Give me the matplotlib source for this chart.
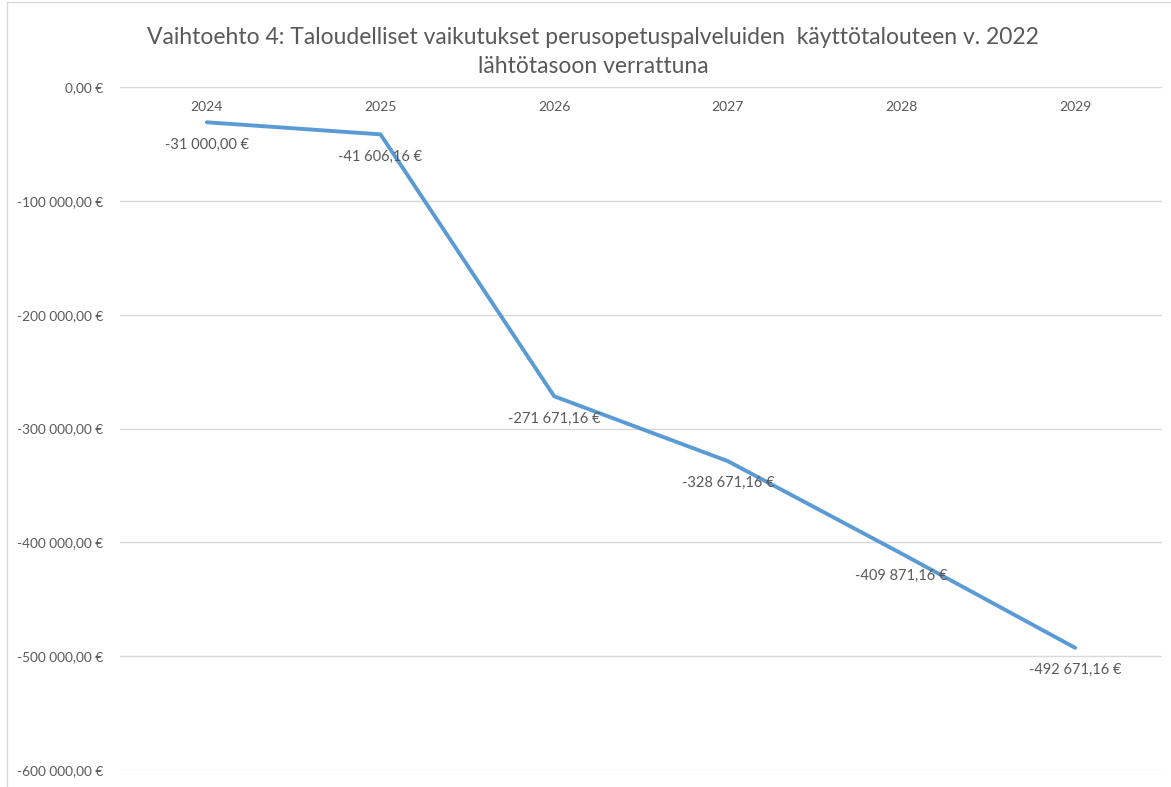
import matplotlib.pyplot as plt
from matplotlib.lines import Line2D

years = ['2024', '2025', '2026', '2027', '2028', '2029']
values = [-31000.00, -41606.16, -271671.16, -328671.16, -409871.16, -492671.16]
yticks = [0, -100000, -200000, -300000, -400000, -500000, -600000]

title = "Vaihtoehto 4: Taloudelliset vaikutukset perusopetuspalveluiden  käyttötalouteen v. 2022\nlähtötasoon verrattuna"

TXT = '#595959'
plt.rcParams['font.family'] = ['Lato', 'DejaVu Sans']


def eur(v):
    s = f"{abs(v):,.2f}".replace(',', ' ').replace('.', ',')
    return ('-' if v < 0 else '') + s + ' €'


fig = plt.figure(figsize=(11.71, 7.87), dpi=100)
ax = fig.add_axes([120 / 1171, 17 / 787, 1042 / 1171, 683 / 787])

x = list(range(len(years)))
ax.plot(x, values, color='#5B9BD5', lw=2.8, solid_capstyle='round', zorder=3)

ax.set_xlim(-0.5, len(years) - 0.5)
ax.set_ylim(-600000, 0)
ax.set_yticks(yticks)
ax.set_yticklabels([eur(v) for v in yticks], color=TXT, fontsize=9.8)
ax.tick_params(axis='y', length=0, pad=12)
ax.set_xticks([])
ax.grid(axis='y', color='#D9D9D9', lw=1)
for s in ax.spines.values():
    s.set_visible(False)

# category labels sit just under the zero line
for i, yr in enumerate(years):
    ax.annotate(yr, (i, 0), xytext=(0, -14.5), textcoords='offset points',
                ha='center', va='center', color=TXT, fontsize=10)

# data labels below each point
for i, v in enumerate(values):
    ax.annotate(eur(v), (i, v), xytext=(0, -16), textcoords='offset points',
                ha='center', va='center', color=TXT, fontsize=10.5)

fig.text(593 / 1171, 1 - 52 / 787, title, ha='center', va='center',
         color=TXT, fontsize=16.5, linespacing=1.45)

# chart frame (left and top edges visible)
fig.add_artist(Line2D([7 / 1171, 7 / 1171], [0, 1 - 2 / 787], color='#D9D9D9', lw=1))
fig.add_artist(Line2D([7 / 1171, 1], [1 - 2 / 787, 1 - 2 / 787], color='#D9D9D9', lw=1))

fig.savefig('out.png', dpi=100)
